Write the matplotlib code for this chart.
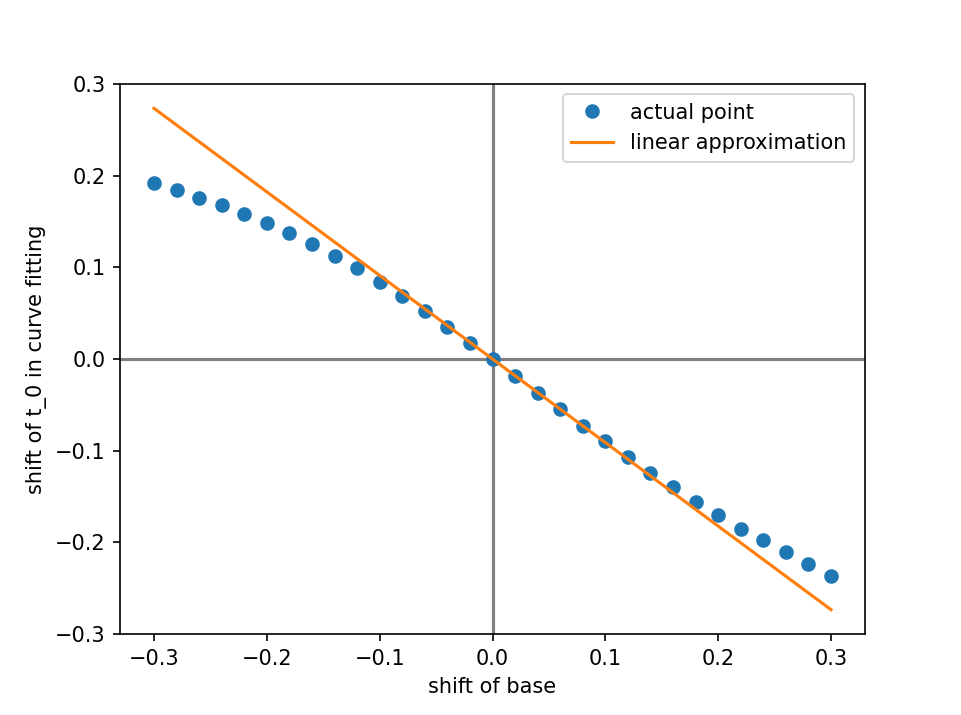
import matplotlib
matplotlib.use("Agg")
import matplotlib.pyplot as plt
import numpy as np

shift_base = [-0.30, -0.28, -0.26, -0.24, -0.22, -0.20, -0.18, -0.16, -0.14, -0.12,
              -0.10, -0.08, -0.06, -0.04, -0.02, 0.00, 0.02, 0.04, 0.06, 0.08,
              0.10, 0.12, 0.14, 0.16, 0.18, 0.20, 0.22, 0.24, 0.26, 0.28, 0.30]
shift_t0 = [0.192, 0.184, 0.176, 0.168, 0.1585, 0.148, 0.137, 0.1255, 0.1127, 0.099,
            0.084, 0.0687, 0.0524, 0.035, 0.018, 0.0, -0.018, -0.037, -0.055, -0.073,
            -0.090, -0.107, -0.124, -0.140, -0.156, -0.170, -0.185, -0.198, -0.211, -0.224, -0.237]
lin_x = [-0.30, 0.30]
lin_y = [0.2735, -0.2735]

fig = plt.figure(figsize=(9.61/1.5, 7.15/1.5), dpi=150)
fig.subplots_adjust(top=0.8825, bottom=0.1133)
ax = fig.add_subplot(111)
ax.axhline(0, color="gray", lw=1.5)
ax.axvline(0, color="gray", lw=1.5)
ax.plot(shift_base, shift_t0, "o", label="actual point")
ax.plot(lin_x, lin_y, label="linear approximation")
ax.set_ylim(-0.3, 0.3)
ax.set_xlabel("shift of base")
ax.set_ylabel("shift of t_0 in curve fitting")
ax.legend()
fig.savefig("out.png", dpi=150)
